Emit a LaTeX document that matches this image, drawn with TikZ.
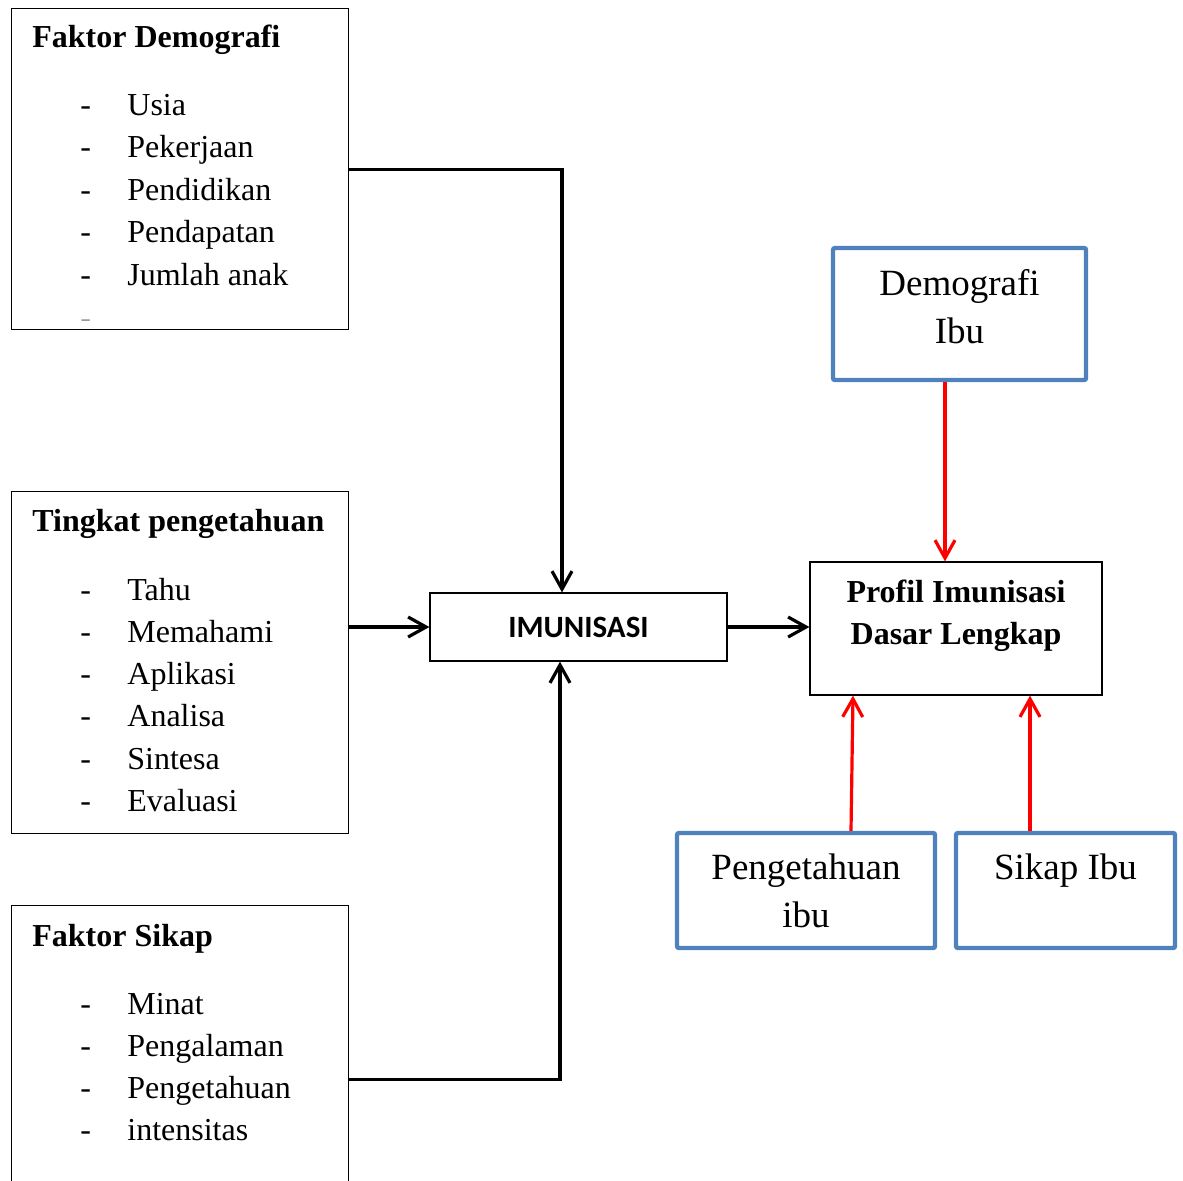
\documentclass[tikz,border=0pt]{standalone}
\usepackage{fontspec}
\setmainfont{Liberation Serif}
\newfontfamily\calibrifont{Carlito}
\usetikzlibrary{arrows.meta,positioning}
\definecolor{boxblue}{RGB}{79,129,189}
\definecolor{arrowred}{RGB}{255,0,0}

\tikzset{
  listbox/.style={draw, line width=0.6pt, anchor=north west, minimum width=168.5pt, inner sep=0},
  listtitle/.style={anchor=base west, inner sep=0, font=\fontsize{16}{20}\selectfont\bfseries},
  listitem/.style={anchor=base west, inner sep=0, font=\fontsize{16}{20}\selectfont},
  plainbox/.style={draw, line width=0.6pt, inner sep=0},
  bluebox/.style={draw=boxblue, line width=2.2pt, rounded corners=1pt, align=center, inner sep=0,
    font=\fontsize{18.5}{24}\selectfont},
  conn/.style={line width=1.6pt, -{Straight Barb[length=9pt,width=10pt]}},
  redconn/.style={conn, draw=arrowred},
}

\begin{document}
\begin{tikzpicture}[x=0.5pt,y=-0.5pt]
  \useasboundingbox (0,0) rectangle (1183,1180);

  % left column: factor boxes
  \node[listbox, minimum height=160.5pt] (demo) at (11,8) {};
  \node[listbox, minimum height=171pt] (tingkat) at (11,491) {};
  \node[listbox, minimum height=174pt] (sikap) at (11,905) {};

  \node[listtitle] (demo-title) at (32,47) {Faktor Demografi};
  \foreach \txt [count=\i] in {Usia,Pekerjaan,Pendidikan,Pendapatan,Jumlah anak}{
    \node[listitem] (demo-dash-\i) at (80,{115+42.5*(\i-1)}) {-};
    \node[listitem] (demo-item-\i) at (127,{115+42.5*(\i-1)}) {\txt};
  }
  \begin{scope}
    \clip (70,300) rectangle (100,320);
    \node[listitem, text=black!40] (demo-dash-6) at (80,328.5) {-};
  \end{scope}

  \node[listtitle] (tingkat-title) at (32,531) {Tingkat pengetahuan};
  \foreach \txt [count=\i] in {Tahu,Memahami,Aplikasi,Analisa,Sintesa,Evaluasi}{
    \node[listitem] (tingkat-dash-\i) at (80,{600+42.3*(\i-1)}) {-};
    \node[listitem] (tingkat-item-\i) at (127,{600+42.3*(\i-1)}) {\txt};
  }

  \node[listtitle] (sikap-title) at (32,946) {Faktor Sikap};
  \foreach \txt [count=\i] in {Minat,Pengalaman,Pengetahuan,intensitas}{
    \node[listitem] (sikap-dash-\i) at (80,{1014+42.3*(\i-1)}) {-};
    \node[listitem] (sikap-item-\i) at (127,{1014+42.3*(\i-1)}) {\txt};
  }

  % middle and right
  \node[plainbox, minimum width=148.5pt, minimum height=34pt,
    font=\calibrifont\bfseries\fontsize{15.5}{18}\selectfont] (imun) at (578.5,627) {IMUNISASI};
  \node[plainbox, minimum width=146pt, minimum height=66.5pt] (profil) at (956,628.5) {};
  \node[align=center, inner sep=0, font=\fontsize{16}{21}\selectfont\bfseries]
    (profil-text) at (956,616) {Profil Imunisasi\\Dasar Lengkap};

  \node[bluebox, minimum width=126.5pt, minimum height=66pt] (demoibu) at (959.5,314)
    {Demografi\\Ibu\strut};
  \node[bluebox, minimum width=129pt, minimum height=57.5pt] (pengibu) at (806,890.5)
    {Pengetahuan\\ibu};
  \node[bluebox, minimum width=109.5pt, minimum height=57.5pt] (sikapibu) at (1065.5,890.5)
    {Sikap Ibu\\\mbox{}};

  % connectors
  \draw[conn] (demo.east) -| ([xshift=-8.25pt]imun.north);
  \draw[conn] (tingkat.east |- imun.west) -- (imun.west);
  \draw[conn] (sikap.east) -| ([xshift=-9.25pt]imun.south);
  \draw[conn] (imun.east) -- (imun.east -| profil.west);

  \draw[redconn] ([xshift=-7.25pt]demoibu.south) -- ([xshift=-7.25pt]demoibu.south |- profil.north);
  \draw[redconn] ([xshift=22.5pt]pengibu.north) -- ([xshift=-51.5pt]profil.south);
  \draw[redconn] ([xshift=-17.75pt]sikapibu.north) -- ([xshift=37pt]profil.south);
\end{tikzpicture}
\end{document}
